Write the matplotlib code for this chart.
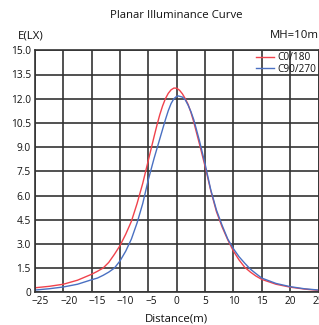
import matplotlib.pyplot as plt
from matplotlib.transforms import ScaledTranslation

# readings
red_x = [-25, -22.5, -20, -17.5, -15, -14, -13, -12, -11, -10, -9, -8, -7, -6,
         -5, -4, -3.5, -3, -2.5, -2, -1.5, -1, -0.5, 0, 0.5, 1, 1.5, 2, 2.5,
         3, 4, 5, 6, 7, 8, 9, 10, 11, 12, 13, 14, 15, 17.5, 20, 22.5, 25]
red_y = [0.28, 0.37, 0.5, 0.75, 1.12, 1.3, 1.5, 1.85, 2.35, 2.9, 3.6, 4.4,
         5.5, 6.75, 8.2, 9.65, 10.35, 11.0, 11.55, 12.0, 12.33, 12.55, 12.66,
         12.65, 12.52, 12.3, 12.0, 11.65, 11.15, 10.55, 9.2, 7.8, 6.3, 5.0,
         4.05, 3.25, 2.55, 2.0, 1.55, 1.25, 1.0, 0.8, 0.5, 0.32, 0.2, 0.12]

blue_x = [-25, -22.5, -20, -17.5, -15, -14, -13, -12, -11, -10, -9, -8, -7, -6,
          -5, -4, -3, -2.5, -2, -1.5, -1, -0.5, 0, 0.3, 1, 1.5, 2, 2.5, 3, 4,
          5, 6, 7, 8, 9, 10, 11, 12, 13, 14, 15, 17.5, 20, 22.5, 25]
blue_y = [0.14, 0.22, 0.33, 0.5, 0.78, 0.88, 1.05, 1.25, 1.5, 1.95, 2.55, 3.3,
          4.3, 5.5, 7.0, 8.3, 9.5, 10.1, 10.7, 11.25, 11.7, 12.0, 12.15,
          12.17, 12.1, 11.93, 11.6, 11.2, 10.7, 9.4, 7.95, 6.35, 5.1, 4.15,
          3.3, 2.7, 2.2, 1.8, 1.43, 1.15, 0.88, 0.55, 0.35, 0.22, 0.14]

x_ticks = [-25, -20, -15, -10, -5, 0, 5, 10, 15, 20, 25]
y_ticks = [0, 1.5, 3.0, 4.5, 6.0, 7.5, 9.0, 10.5, 12.0, 13.5, 15.0]
y_labels = ['0', '1.5', '3.0', '4.5', '6.0', '7.5', '9.0', '10.5', '12.0',
            '13.5', '15.0']

plt.rcParams['font.family'] = ['Open Sans', 'DejaVu Sans']
txt = '#111111'

fig = plt.figure(figsize=(3.19, 3.25), dpi=100)
ax = fig.add_axes([35 / 319, 32.7 / 325, 283.5 / 319, 242 / 325])

ax.plot(red_x, red_y, color='#f0424c', lw=1.0, label='C0/180')
ax.plot(blue_x, blue_y, color='#4a70c2', lw=1.0, label='C90/270')

ax.set_xlim(-25, 25)
ax.set_ylim(0, 15)
ax.set_xticks(x_ticks)
ax.set_yticks(y_ticks)
ax.set_yticklabels(y_labels)
ax.tick_params(length=0, labelsize=7.3, colors=txt, pad=3)
ax.grid(True, color='#333333', lw=1.2)
ax.set_axisbelow(True)
for s in ax.spines.values():
    s.set_color('#333333')
    s.set_linewidth(1.2)

# the negative labels sit a little right of their grid lines in the original
for val, lbl in zip(x_ticks, ax.get_xticklabels()):
    if val < 0:
        dx = 0.03 if val == -5 else 0.055
        lbl.set_transform(lbl.get_transform()
                          + ScaledTranslation(dx, 0, fig.dpi_scale_trans))

ax.set_xlabel('Distance(m)', fontsize=8.2, color=txt, labelpad=4)
fig.text(176 / 319, 1 - 15 / 325, 'Planar Illuminance Curve', ha='center',
         va='center', fontsize=8.2, color=txt)
fig.text(18 / 319, 1 - 36 / 325, 'E(LX)', ha='left', va='center',
         fontsize=8.2, color=txt)
fig.text(319 / 319, 1 - 36 / 325, 'MH=10m', ha='right', va='center',
         fontsize=8.2, color=txt)

ax.legend(loc='upper right', bbox_to_anchor=(1.0, 1.0), frameon=False,
          fontsize=7.3, handlelength=1.7, handletextpad=0.4,
          labelspacing=0.05, borderpad=0.1, borderaxespad=0.1,
          labelcolor=txt)

fig.savefig('out.png', dpi=100)
